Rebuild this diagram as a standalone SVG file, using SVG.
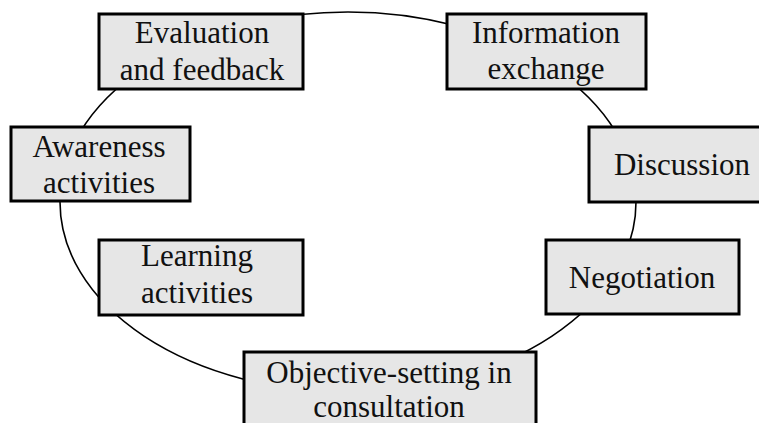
<svg xmlns="http://www.w3.org/2000/svg" width="759" height="423" viewBox="0 0 759 423">
<style>
.box{fill:#e6e6e6;stroke:#000;stroke-width:3}
.lbl{font-family:"Liberation Serif","Times New Roman",serif;font-size:31px;fill:#111;text-anchor:middle}
.conn{fill:none;stroke:#000;stroke-width:1.6}
</style>
<rect width="759" height="423" fill="#fff"/>
<g id="connectors">
<ellipse class="conn" cx="348" cy="202" rx="288" ry="190"/>
</g>
<g id="eval">
<rect class="box" x="99" y="14" width="204" height="75"/>
<text class="lbl" x="202" y="43">Evaluation</text>
<text class="lbl" x="202" y="80">and feedback</text>
</g>
<g id="info">
<rect class="box" x="447" y="14" width="199" height="75"/>
<text class="lbl" x="546" y="43">Information</text>
<text class="lbl" x="546" y="79">exchange</text>
</g>
<g id="awareness">
<rect class="box" x="11" y="127" width="179" height="74"/>
<text class="lbl" x="99" y="157">Awareness</text>
<text class="lbl" x="99" y="193">activities</text>
</g>
<g id="discussion">
<rect class="box" x="589" y="127" width="175" height="75"/>
<text class="lbl" x="682" y="175">Discussion</text>
</g>
<g id="learning">
<rect class="box" x="99" y="240" width="204" height="75"/>
<text class="lbl" x="197" y="266">Learning</text>
<text class="lbl" x="197" y="303">activities</text>
</g>
<g id="negotiation">
<rect class="box" x="546" y="240" width="193" height="74"/>
<text class="lbl" x="642" y="288">Negotiation</text>
</g>
<g id="objective">
<rect class="box" x="244" y="352" width="292" height="80"/>
<text class="lbl" x="389" y="383">Objective-setting in</text>
<text class="lbl" x="389" y="417">consultation</text>
</g>
</svg>
